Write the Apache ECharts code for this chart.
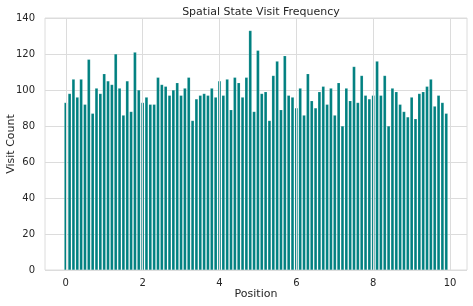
<!DOCTYPE html>
<html>
<head>
<meta charset="utf-8">
<script src="https://cdn.jsdelivr.net/npm/echarts@6/dist/echarts.min.js"></script>
<style>
html,body{margin:0;padding:0;background:#fff;}
#chart{width:473px;height:306px;}
</style>
</head>
<body>
<div id="chart"></div>
<script>
var positions = [0.0,0.1,0.2,0.3,0.4,0.5,0.6,0.7,0.8,0.9,
  1.0,1.1,1.2,1.3,1.4,1.5,1.6,1.7,1.8,1.9,
  2.0,2.1,2.2,2.3,2.4,2.5,2.6,2.7,2.8,2.9,
  3.0,3.1,3.2,3.3,3.4,3.5,3.6,3.7,3.8,3.9,
  4.0,4.1,4.2,4.3,4.4,4.5,4.6,4.7,4.8,4.9,
  5.0,5.1,5.2,5.3,5.4,5.5,5.6,5.7,5.8,5.9,
  6.0,6.1,6.2,6.3,6.4,6.5,6.6,6.7,6.8,6.9,
  7.0,7.1,7.2,7.3,7.4,7.5,7.6,7.7,7.8,7.9,
  8.0,8.1,8.2,8.3,8.4,8.5,8.6,8.7,8.8,8.9,
  9.0,9.1,9.2,9.3,9.4,9.5,9.6,9.7,9.8,9.9];
var visitCounts = [93,98,106,96,106,92,117,87,101,98,
  109,105,103,120,101,86,105,88,121,100,
  93,96,92,92,107,103,102,97,100,104,
  97,101,107,83,95,97,98,97,101,96,
  105,97,106,89,107,104,96,107,133,88,
  122,98,99,83,108,116,89,119,97,96,
  90,101,86,109,94,90,99,102,92,101,
  86,104,80,101,94,113,93,108,97,95,
  97,116,97,108,80,101,99,92,88,85,
  96,84,98,99,102,106,91,97,93,87];
var xTicks = [0,2,4,6,8,10];
var yTicks = [0,20,40,60,80,100,120,140];

var data = positions.map(function(p,i){return [p, visitCounts[i]];});
var chart = echarts.init(document.getElementById('chart'), null, {renderer:'canvas'});
var font = 'DejaVu Sans';
chart.setOption({
  animation:false,
  backgroundColor:'#ffffff',
  title:{text:'Spatial State Visit Frequency', left:256, top:2, textAlign:'center',
    textStyle:{fontFamily:font, fontSize:11, fontWeight:'normal', color:'#262626'}},
  grid:{left:45, right:6, top:18, bottom:36, show:true, borderColor:'#dcdcdc', borderWidth:1,
    containLabel:false, outerBoundsMode:'none'},
  xAxis:{type:'value', min:-0.54, max:10.44,
    name:'Position', nameLocation:'middle', nameGap:19, nameMoveOverlap:false,
    nameTextStyle:{fontFamily:font, fontSize:11, color:'#262626'},
    axisLine:{show:false},
    axisTick:{show:false, customValues:xTicks},
    axisLabel:{fontFamily:font, fontSize:10, color:'#262626', margin:8, customValues:xTicks},
    splitLine:{show:false}},
  yAxis:{type:'value', min:0, max:140, interval:20,
    name:'Visit Count', nameLocation:'middle', nameGap:28, nameMoveOverlap:false,
    nameTextStyle:{fontFamily:font, fontSize:11, color:'#262626'},
    axisLine:{show:false}, axisTick:{show:false},
    axisLabel:{fontFamily:font, fontSize:10, color:'#262626', margin:10},
    splitLine:{show:true, lineStyle:{color:'#dcdcdc', width:1}}},
  series:[
    {type:'line', data:[], silent:true, z:1,
      markLine:{silent:true, symbol:['none','none'], label:{show:false},
        lineStyle:{color:'#dcdcdc', width:1, type:'solid'},
        data:xTicks.map(function(t){return {xAxis:t};})}},
    {type:'bar', data:data, barWidth:3.1, z:2,
      itemStyle:{color:'#008080', borderColor:'rgba(255,255,255,0.35)', borderWidth:0.4}}]
});
</script>
</body>
</html>
